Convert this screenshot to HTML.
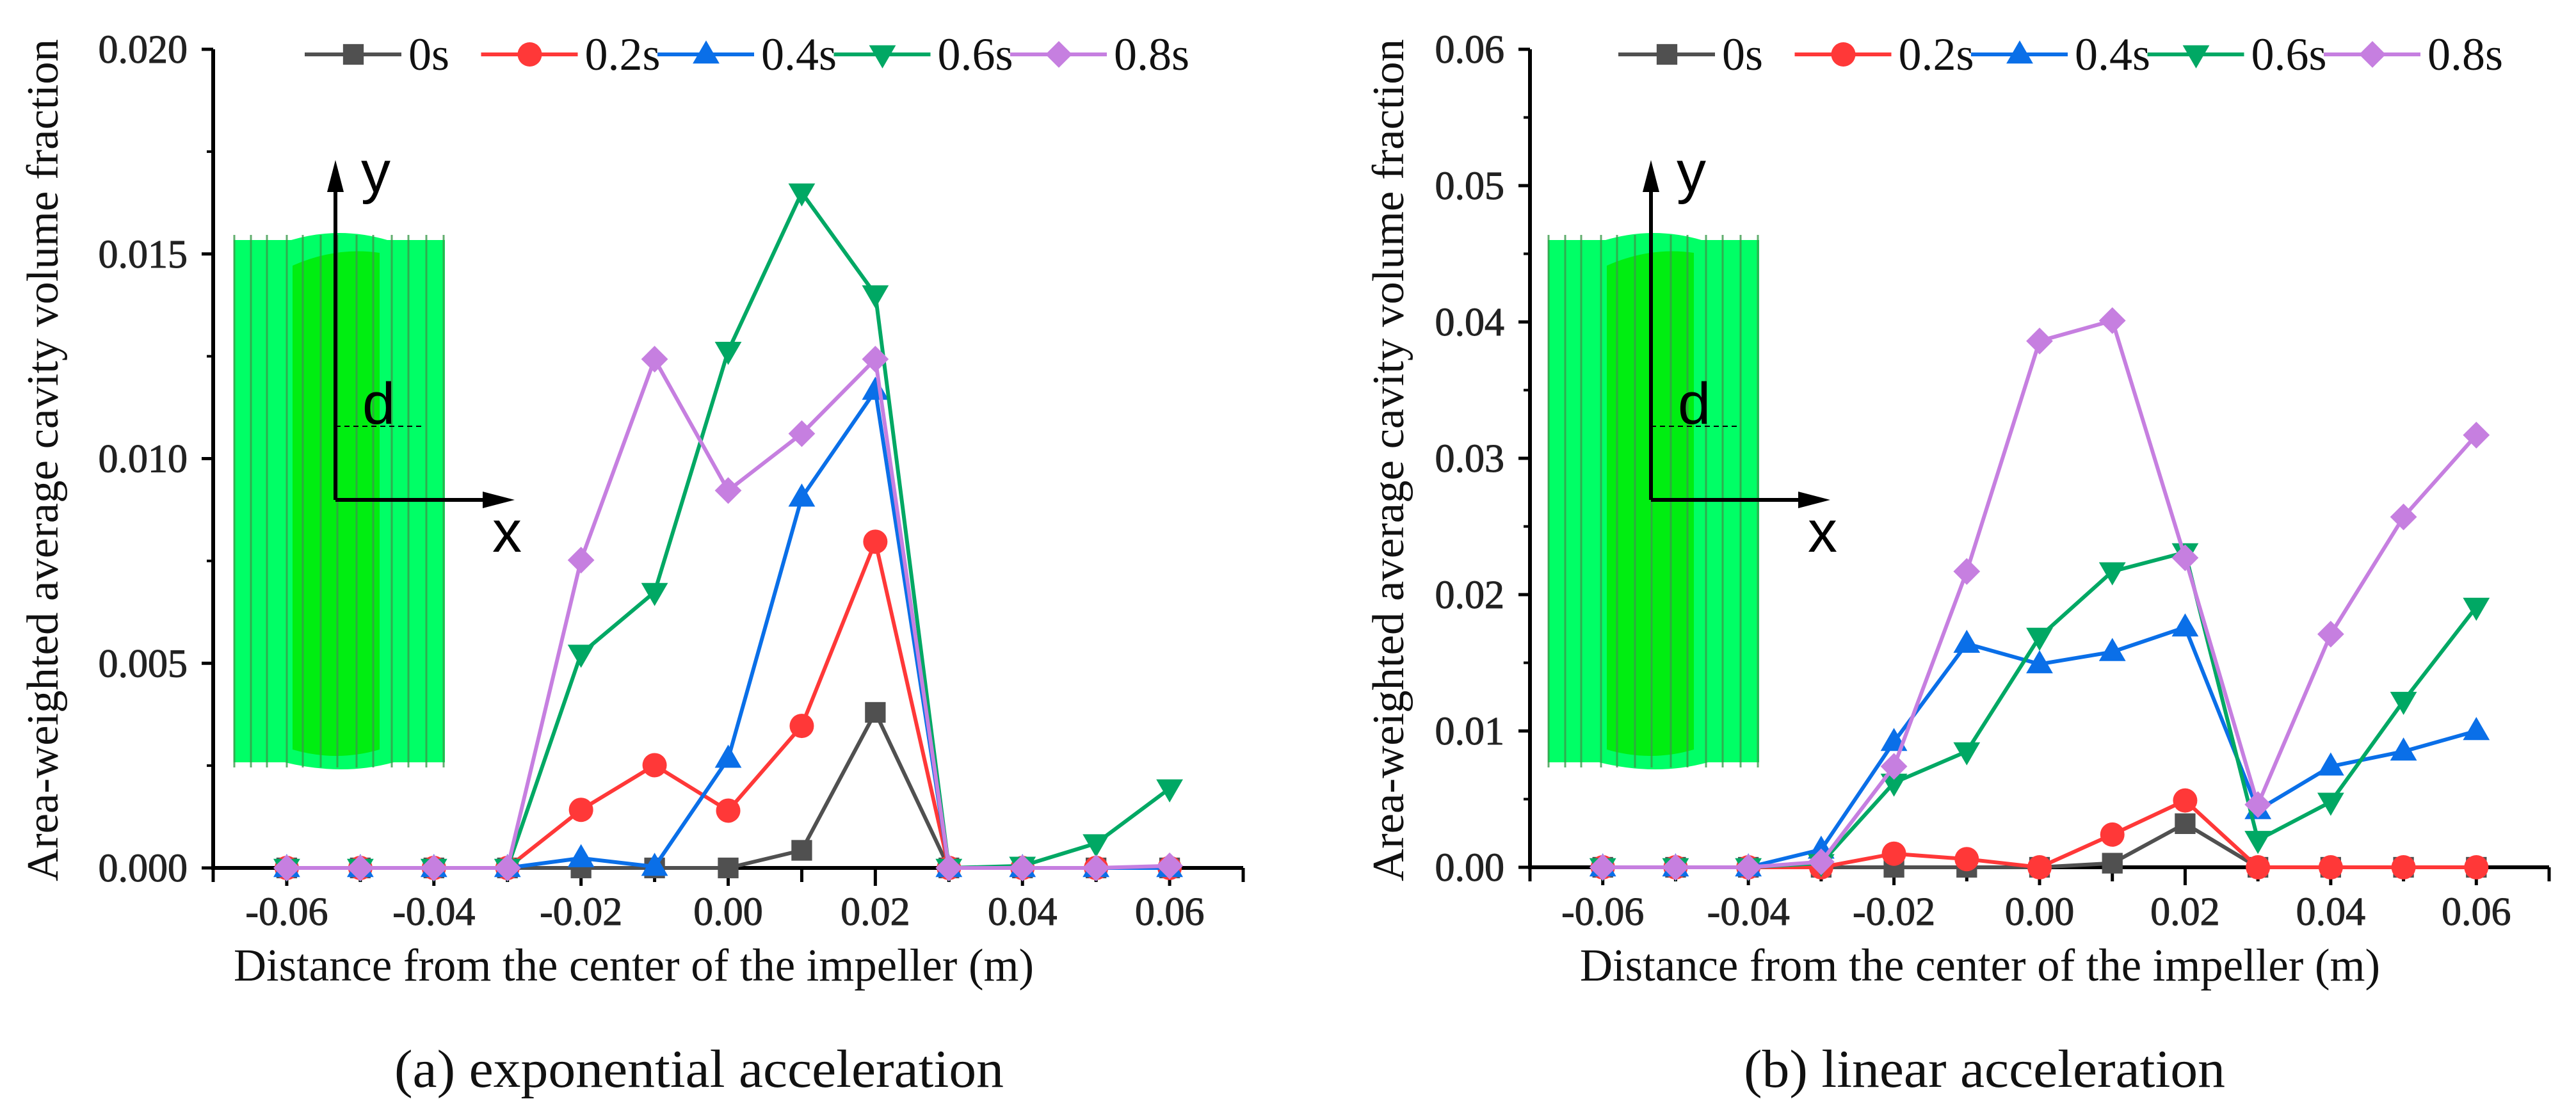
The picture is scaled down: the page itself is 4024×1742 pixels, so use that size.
<!DOCTYPE html>
<html><head><meta charset="utf-8"><style>
html,body{margin:0;padding:0;background:#fff;}
svg{display:block;font-family:"Liberation Serif",serif;}
</style></head><body>
<svg id="fig" width="4024" height="1742" viewBox="0 0 4024 1742" xmlns="http://www.w3.org/2000/svg"></svg>
<script>
const xCategories = [-0.06,-0.05,-0.04,-0.03,-0.02,-0.01,0.00,0.01,0.02,0.03,0.04,0.05,0.06];
const seriesNames = ["0s","0.2s","0.4s","0.6s","0.8s"];
const xTickLabels = ["-0.06","-0.04","-0.02","0.00","0.02","0.04","0.06"];
const xTickValues = [-0.06,-0.04,-0.02,0,0.02,0.04,0.06];
const yTicksA = [0,0.005,0.010,0.015,0.020];
const yTickLabelsA = ["0.000","0.005","0.010","0.015","0.020"];
const yTicksB = [0,0.01,0.02,0.03,0.04,0.05,0.06];
const yTickLabelsB = ["0.00","0.01","0.02","0.03","0.04","0.05","0.06"];
const a_0s  = [0,0,0,0,0,0,0,0.00043,0.0038,0,0,0,0];
const a_02s = [0,0,0,0,0.00142,0.00251,0.0014,0.00347,0.00797,0,0,0,0];
const a_04s = [0,0,0,0,0.00024,0.00003,0.00267,0.00905,0.01166,0,0,0,0];
const a_06s = [0,0,0,0,0.00523,0.00674,0.01263,0.0165,0.01401,0,0.00005,0.0006,0.00194];
const a_08s = [0,0,0,0,0.00752,0.01243,0.00922,0.01061,0.01243,0,0,0,0.00005];
const b_0s  = [0,0,0,0,0,0,0,0.0003,0.0032,0,0,0,0];
const b_02s = [0,0,0,0,0.001,0.0006,0,0.0024,0.0049,0,0,0,0];
const b_04s = [0,0,0,0.0013,0.0092,0.0164,0.0149,0.0158,0.0176,0.0042,0.0074,0.0085,0.0100];
const b_06s = [0,0,0,0.0003,0.0062,0.0085,0.0169,0.0217,0.0231,0.002,0.0048,0.0122,0.0191];
const b_08s = [0,0,0,0.0004,0.0074,0.0217,0.0386,0.0401,0.0227,0.0046,0.0171,0.0257,0.0317];

const NS="http://www.w3.org/2000/svg";
const SERIF="Liberation Serif, serif";
const svg=document.getElementById('fig');
function mk(tag,attrs,parent){const e=document.createElementNS(NS,tag);for(const k in attrs)e.setAttribute(k,attrs[k]);(parent||svg).appendChild(e);return e;}
const colors=["#505050","#ff3838","#0a6fe8","#00a864","#c67fe0"];
const shapes=["square","circle","up","down","diamond"];

function marker(g,shape,cx,cy,r,color){
  let e;
  if(shape==="square") e=mk('rect',{x:cx-r*0.85,y:cy-r*0.85,width:r*1.7,height:r*1.7,fill:color},g);
  else if(shape==="circle") e=mk('circle',{cx:cx,cy:cy,r:r,fill:color},g);
  else if(shape==="up") e=mk('polygon',{points:`${cx},${cy-r*1.15} ${cx-r*1.1},${cy+r*0.75} ${cx+r*1.1},${cy+r*0.75}`,fill:color},g);
  else if(shape==="down") e=mk('polygon',{points:`${cx},${cy+r*1.15} ${cx-r*1.1},${cy-r*0.75} ${cx+r*1.1},${cy-r*0.75}`,fill:color},g);
  else e=mk('polygon',{points:`${cx},${cy-r*1.1} ${cx+r*1.1},${cy} ${cx},${cy+r*1.1} ${cx-r*1.1},${cy}`,fill:color},g);
  return e;
}

function inset(g,x0,ax){
  const w=330, top=375, bot=1191;
  mk('path',{d:`M${x0} ${top} L${x0+90} ${top} Q${x0+165} ${top-22} ${x0+240} ${top} L${x0+w} ${top} L${x0+w} ${bot} L${x0+250} ${bot} Q${x0+170} ${bot+22} ${x0+80} ${bot} L${x0} ${bot} Z`,fill:"#00ff66"},g);
  mk('path',{d:`M${x0+92} ${top+40} Q${x0+160} ${top+10} ${x0+228} ${top+20} L${x0+228} ${bot-20} Q${x0+160} ${bot} ${x0+92} ${bot-20} Z`,fill:"#00ee11"},g);
  const stripes=[1,27,52,83,108,136,162,192,218,247,273,301,328];
  stripes.forEach(s=>mk('line',{x1:x0+s,y1:top-8,x2:x0+s,y2:bot+8,stroke:"#3a9a4a","stroke-width":3,opacity:0.8},g));
  const arx=x0+ax;
  mk('line',{x1:arx,y1:781,x2:arx,y2:290,stroke:"#000","stroke-width":6},g);
  mk('polygon',{points:`${arx},250 ${arx-13},300 ${arx+13},300`,fill:"#000"},g);
  mk('line',{x1:arx,y1:781,x2:arx+238,y2:781,stroke:"#000","stroke-width":6},g);
  mk('polygon',{points:`${arx+280},781 ${arx+230},768 ${arx+230},794`,fill:"#000"},g);
  const ty=mk('text',{x:arx+40,y:300,"font-family":"Liberation Sans, sans-serif","font-size":92},g);ty.textContent="y";
  
  const tx=mk('text',{x:arx+245,y:862,"font-family":"Liberation Sans, sans-serif","font-size":92},g);tx.textContent="x";
  
  mk('line',{x1:arx,y1:666,x2:arx+140,y2:666,stroke:"#000","stroke-width":2,"stroke-dasharray":"8 6"},g);
  const td=mk('text',{x:arx+42,y:662,"font-family":"Liberation Sans, sans-serif","font-size":92},g);td.textContent="d";
  
}

function panel(cfg){
  const g=mk('g',{});
  
  
  const X=v=>cfg.xl+(v-(-0.07))/0.14*(cfg.xr-cfg.xl);
  const Y=v=>cfg.y0-(v/cfg.ymax)*(cfg.y0-cfg.yt);
  inset(g,cfg.insetX,cfg.insetAx);
  const axes=mk('g',{},g);
  
  
  mk('line',{x1:cfg.xl,y1:cfg.yt,x2:cfg.xl,y2:cfg.y0+3,stroke:"#000","stroke-width":6},axes);
  mk('line',{x1:cfg.xl-3,y1:cfg.y0,x2:cfg.xr,y2:cfg.y0,stroke:"#000","stroke-width":6},axes);
  for(let i=0;i<cfg.yt_vals.length;i++){
    const y=Y(cfg.yt_vals[i]);
    mk('line',{x1:cfg.xl-18,y1:y,x2:cfg.xl,y2:y,stroke:"#000","stroke-width":5},axes);
    if(i<cfg.yt_vals.length-1){const ym=Y((cfg.yt_vals[i]+cfg.yt_vals[i+1])/2);
      mk('line',{x1:cfg.xl-10,y1:ym,x2:cfg.xl,y2:ym,stroke:"#000","stroke-width":4},axes);}
    const t=mk('text',{x:cfg.xl-40,y:y+21,"text-anchor":"end","font-family":SERIF,"font-size":62,fill:"#222",stroke:"#222","stroke-width":1},axes);
    t.textContent=cfg.yt_labels[i];
    
    
  }
  for(let v=-7;v<=7;v++){
    const x=X(v/100);
    const major=(v%2===0);
    mk('line',{x1:x,y1:cfg.y0,x2:x,y2:cfg.y0+(major?28:22),stroke:"#000","stroke-width":5},axes);
  }
  for(let i=0;i<xTickValues.length;i++){
    const t=mk('text',{x:X(xTickValues[i]),y:1445,"text-anchor":"middle","font-family":SERIF,"font-size":62,fill:"#222",stroke:"#222","stroke-width":1},axes);
    t.textContent=xTickLabels[i];
    
    
  }
  const xt=mk('text',{x:cfg.xtc,y:1532,"text-anchor":"middle","font-family":SERIF,"font-size":72,textLength:1250,lengthAdjust:"spacingAndGlyphs",fill:"#111"},g);
  xt.textContent="Distance from the center of the impeller (m)";
  
  
  const yt=mk('text',{x:0,y:0,"text-anchor":"middle","font-family":SERIF,"font-size":70,textLength:1316,lengthAdjust:"spacingAndGlyphs",fill:"#111",transform:`translate(${cfg.ytx},719) rotate(-90)`},g);
  yt.textContent="Area-weighted average cavity volume fraction";
  
  
  const cap=mk('text',{x:cfg.capx,y:1698,"text-anchor":"middle","font-family":SERIF,"font-size":84,textLength:cfg.capw,lengthAdjust:"spacingAndGlyphs",fill:"#111"},g);
  cap.textContent=cfg.caption;
  
  
  cfg.series.forEach((vals,si)=>{
    const sg=mk('g',{},g);
    
    
    const pts=vals.map((v,i)=>X(xCategories[i]).toFixed(1)+","+Y(v).toFixed(1)).join(" ");
    const pl=mk('polyline',{points:pts,fill:"none",stroke:colors[si],"stroke-width":6,"stroke-linejoin":"round"},sg);
    
    
    vals.forEach((v,i)=>{
      const m=marker(sg,shapes[si],X(xCategories[i]),Y(v),19,colors[si]);
      
      
    });
  });
  const lg=mk('g',{},g);
  
  
  seriesNames.forEach((n,i)=>{
    const x=cfg.legX+i*275.5;
    const e=mk('g',{},lg);
    
    
    mk('line',{x1:x,y1:85,x2:x+151,y2:85,stroke:colors[i],"stroke-width":6},e);
    marker(e,shapes[i],x+76,85,19,colors[i]);
    const t=mk('text',{x:x+162,y:109,"font-family":SERIF,"font-size":72,fill:"#111"},e);
    t.textContent=n;
  });
}

panel({name:'panel-a-exponential',xl:333,xr:1942,y0:1356,yt:77,ymax:0.02,yt_vals:yTicksA,yt_labels:yTickLabelsA,
  series:[a_0s,a_02s,a_04s,a_06s,a_08s],insetX:365,insetAx:159,xtc:990,ytx:90,capx:1092,capw:952,
  caption:"(a) exponential acceleration",legX:476});
panel({name:'panel-b-linear',xl:2390,xr:3982,y0:1355,yt:77,ymax:0.06,yt_vals:yTicksB,yt_labels:yTickLabelsB,
  series:[b_0s,b_02s,b_04s,b_06s,b_08s],insetX:2418,insetAx:161,xtc:3093,ytx:2192,capx:3100,capw:752,
  caption:"(b) linear acceleration",legX:2528});
</script>
</body></html>
